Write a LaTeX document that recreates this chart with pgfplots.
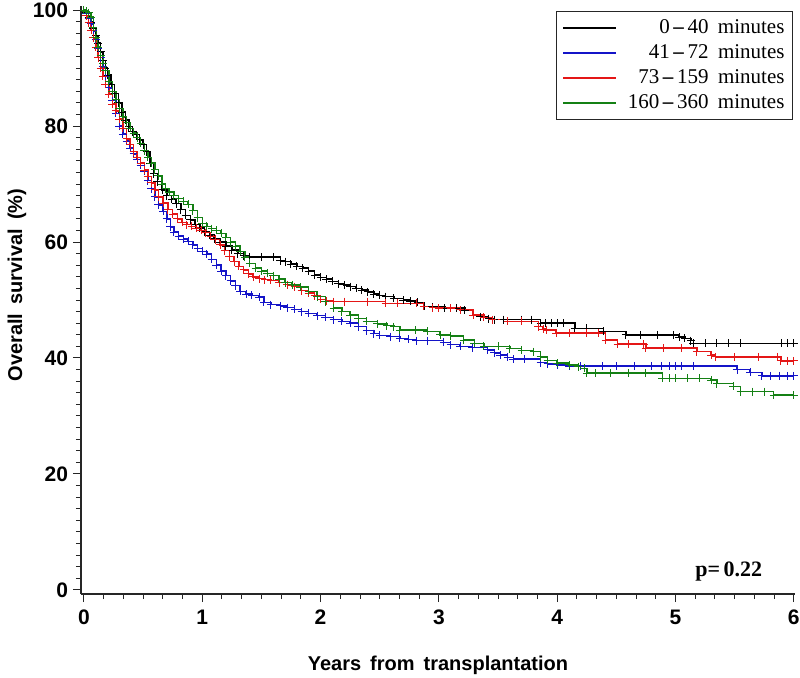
\documentclass[border=0pt]{standalone}
\usepackage{pgfplots}
\pgfplotsset{compat=1.18}
\usepackage{pgfplotstable}
\usepackage{fontspec}
\setmainfont{Liberation Sans}
\newfontfamily\legfont[Ligatures=TeX]{Liberation Serif}
\definecolor{kmblue}{RGB}{20,20,200}
\definecolor{kmred}{RGB}{228,22,22}
\definecolor{kmgreen}{RGB}{20,128,20}

\pgfplotstableread{
t S
0 100
0.02 99.6
0.04 98.8
0.06 97.9
0.08 96.9
0.10 95.6
0.12 94.3
0.14 92.8
0.16 91.3
0.18 90.0
0.20 88.8
0.23 87.2
0.26 85.6
0.29 84.0
0.32 82.4
0.35 81.0
0.38 79.9
0.41 79.0
0.44 78.5
0.47 77.6
0.50 76.8
0.53 75.6
0.56 73.6
0.59 71.8
0.62 70.4
0.66 69.0
0.70 68.0
0.74 67.4
0.78 66.6
0.82 65.6
0.86 64.6
0.90 63.8
0.94 63.0
0.98 62.4
1.02 61.8
1.06 61.2
1.10 60.6
1.15 60.0
1.20 59.3
1.25 58.6
1.30 58.0
1.35 57.6
1.40 57.4
1.50 57.4
1.60 57.4
1.66 56.8
1.70 56.6
1.75 56.2
1.80 55.8
1.85 55.5
1.90 55.0
1.95 54.3
2.00 53.9
2.05 53.6
2.10 53.2
2.15 52.8
2.20 52.6
2.25 52.3
2.30 52.0
2.35 51.7
2.40 51.4
2.45 51.0
2.50 50.8
2.55 50.6
2.62 50.3
2.70 50.0
2.76 49.8
2.82 49.6
2.88 48.9
2.95 48.8
3.05 48.6
3.15 48.6
3.22 48.2
3.29 47.4
3.35 47.1
3.42 46.8
3.47 46.6
3.55 46.6
3.70 46.6
3.78 46.6
3.86 46.0
3.90 46.0
3.95 46.0
4.00 46.0
4.05 46.0
4.15 45.1
4.25 45.1
4.39 44.6
4.58 44.0
4.70 44.0
4.85 44.0
4.98 44.0
5.03 43.6
5.08 43.4
5.13 43.0
5.15 42.5
5.25 42.5
5.35 42.5
5.45 42.5
5.55 42.5
5.90 42.5
5.95 42.5
6.00 42.5
}\grpA

\pgfplotstableread{
t S
0 100
0.02 99.4
0.04 98.6
0.06 97.6
0.08 96.4
0.10 95.0
0.12 93.4
0.14 91.8
0.16 90.2
0.18 88.6
0.21 86.6
0.24 84.4
0.27 82.2
0.30 80.0
0.33 78.6
0.36 77.4
0.39 76.2
0.42 75.2
0.45 74.2
0.48 73.2
0.51 72.2
0.54 70.6
0.57 69.2
0.60 67.8
0.63 66.4
0.67 65.3
0.70 64.0
0.73 62.6
0.76 61.7
0.80 61.0
0.84 60.5
0.88 60.1
0.92 59.5
0.96 58.9
1.00 58.4
1.04 57.9
1.08 57.0
1.12 56.0
1.16 55.0
1.20 54.2
1.24 53.3
1.28 52.5
1.32 51.5
1.37 51.0
1.42 50.8
1.48 50.5
1.52 49.6
1.58 49.2
1.66 49.0
1.72 48.7
1.78 48.4
1.84 48.0
1.90 47.7
1.97 47.3
2.04 47.0
2.11 46.6
2.18 46.3
2.25 46.0
2.32 45.4
2.39 44.7
2.45 44.2
2.50 43.9
2.59 43.7
2.67 43.4
2.74 43.2
2.81 43.0
2.90 43.0
3.04 42.7
3.10 42.3
3.18 42.0
3.28 41.8
3.41 41.4
3.47 40.9
3.52 40.5
3.58 40.1
3.63 39.8
3.72 39.8
3.86 39.2
3.92 39.0
4.00 38.8
4.10 38.6
4.20 38.6
4.38 38.6
4.50 38.6
4.65 38.6
4.80 38.6
4.88 38.6
4.95 38.6
5.00 38.6
5.05 38.6
5.15 38.6
5.52 38.0
5.63 37.5
5.73 36.9
5.80 36.9
5.88 36.9
5.95 36.9
6.00 36.9
}\grpB

\pgfplotstableread{
t S
0 100
0.02 99.0
0.04 97.8
0.06 96.5
0.08 95.2
0.10 93.6
0.12 91.8
0.14 90.0
0.16 88.6
0.18 87.2
0.21 85.5
0.24 83.8
0.27 82.6
0.30 81.2
0.33 79.6
0.36 77.8
0.39 76.8
0.42 75.6
0.45 74.6
0.48 73.6
0.51 72.4
0.54 71.3
0.57 70.2
0.60 69.0
0.63 67.8
0.67 66.7
0.71 65.6
0.75 64.8
0.79 64.0
0.83 63.4
0.87 63.0
0.91 62.7
0.95 62.4
0.99 62.0
1.03 61.6
1.07 61.0
1.11 60.4
1.15 59.5
1.19 58.5
1.23 57.5
1.27 56.6
1.31 55.8
1.35 55.2
1.39 54.5
1.43 54.0
1.48 53.7
1.53 53.5
1.58 53.4
1.65 53.0
1.72 52.6
1.78 52.3
1.84 51.6
1.90 51.2
1.95 50.7
2.00 50.1
2.05 49.8
2.11 49.7
2.20 49.7
2.40 49.7
2.55 49.4
2.65 49.4
2.81 49.4
2.87 48.9
2.95 48.7
3.00 48.6
3.10 48.6
3.18 48.3
3.29 47.4
3.38 47.0
3.45 46.6
3.58 46.3
3.70 46.3
3.84 45.4
3.88 45.0
3.91 44.8
3.99 44.3
4.10 44.3
4.25 44.3
4.35 44.3
4.41 43.1
4.51 42.4
4.60 42.4
4.73 42.4
4.75 41.7
4.90 41.7
5.05 41.7
5.18 41.1
5.30 40.5
5.34 40.2
5.50 40.2
5.70 40.2
5.86 40.2
5.89 39.5
5.95 39.5
6.00 39.5
}\grpC

\pgfplotstableread{
t S
0 100
0.02 99.8
0.04 99.5
0.06 98.8
0.08 97.0
0.10 95.2
0.12 93.6
0.14 92.2
0.16 90.8
0.18 89.6
0.21 87.6
0.24 86.0
0.27 84.6
0.30 83.0
0.33 81.6
0.36 80.6
0.39 79.6
0.42 78.8
0.45 78.0
0.48 77.0
0.51 75.7
0.54 74.6
0.57 73.6
0.60 72.5
0.63 71.4
0.66 70.0
0.69 69.2
0.72 68.6
0.76 68.0
0.80 67.5
0.84 67.0
0.88 66.5
0.92 65.4
0.96 64.2
1.00 63.2
1.04 62.7
1.08 62.3
1.12 62.0
1.16 61.5
1.20 60.8
1.24 60.0
1.28 59.3
1.32 58.4
1.36 57.4
1.40 56.3
1.45 55.5
1.50 55.0
1.55 54.6
1.60 54.2
1.65 53.6
1.70 53.0
1.76 52.6
1.83 52.2
1.90 51.5
1.97 50.6
2.04 49.7
2.11 48.6
2.18 48.0
2.25 47.4
2.32 46.8
2.39 46.3
2.48 45.9
2.56 45.6
2.62 45.4
2.67 44.8
2.80 44.8
2.90 44.6
3.01 44.0
3.10 43.8
3.21 43.1
3.30 42.5
3.38 42.0
3.50 42.0
3.60 41.6
3.70 41.3
3.80 41.1
3.86 40.2
3.92 39.6
4.00 39.1
4.10 38.8
4.18 38.5
4.23 38.2
4.25 37.4
4.32 37.4
4.45 37.4
4.60 37.4
4.75 37.4
4.89 36.5
4.95 36.5
5.00 36.5
5.10 36.5
5.20 36.5
5.30 36.2
5.35 35.6
5.49 35.1
5.55 34.2
5.65 34.2
5.75 34.2
5.83 33.6
6.00 33.6
}\grpD

\begin{document}
\begin{tikzpicture}
\useasboundingbox (-40.5pt,-41.5pt) rectangle (359.5pt,297pt);
\begin{axis}[
  scale only axis,
  width=357pt, height=294pt,
  xmin=-0.025, xmax=6.01,
  ymin=-0.7, ymax=100.7,
  axis lines*=left,
  axis line style={black!85, line width=0.6pt},
  xtick={0,1,2,3,4,5,6},
  ytick={0,20,40,60,80,100},
  minor x tick num=5,
  minor y tick num=9,
  tick align=outside,
  major tick length=4pt,
  minor tick length=2.5pt,
  tick style={black!85, line width=0.5pt},
  /pgf/number format/assume math mode=true,
  ticklabel style={font=\bfseries\fontsize{10.5}{12}\selectfont},
  xticklabel style={anchor=base, yshift=-11.25pt},
  yticklabel style={anchor=east, inner sep=0pt, xshift=-2.3pt},
  xlabel={Years\hspace{0.45em}from\hspace{0.45em}transplantation},
  ylabel={Overall\hspace{0.45em}survival\hspace{0.45em}(\%)},
  label style={font=\bfseries\fontsize{10}{12}\selectfont},
  xlabel style={at={(axis description cs:0.5,-0.1293)}, anchor=base},
  ylabel style={at={(axis description cs:-0.0826,0.5255)}, anchor=base, rotate=0},
  legend cell align=right,
  legend style={
    at={(axis description cs:1,1)}, anchor=north east,
    xshift=-1pt, yshift=-2.5pt,
    draw=black!85, line width=0.5pt,
    font=\legfont\fontsize{10.5}{12}\selectfont,
    inner xsep=3pt, inner ysep=2pt,
    row sep=0pt,
    nodes={inner sep=1pt, text height=8pt, text depth=2.5pt},
  },
  legend image code/.code={\draw[#1, line width=0.7pt] (0pt,0pt) -- (26.5pt,0pt); \path (31pt,0pt);},
  every axis plot/.append style={const plot, line width=0.75pt, mark=+, mark size=2pt, mark options={line width=0.5pt}},
]
\addplot[black] table[x=t, y=S] {\grpA};
\addlegendentry{0\,\textbf{\textendash}\,40\hspace{0.45em}minutes}
\addplot[kmblue] table[x=t, y=S] {\grpB};
\addlegendentry{41\,\textbf{\textendash}\,72\hspace{0.45em}minutes}
\addplot[kmred] table[x=t, y=S] {\grpC};
\addlegendentry{73\,\textbf{\textendash}\,159\hspace{0.45em}minutes}
\addplot[kmgreen] table[x=t, y=S] {\grpD};
\addlegendentry{160\,\textbf{\textendash}\,360\hspace{0.45em}minutes}
\node[font=\legfont\bfseries\fontsize{11}{12}\selectfont, anchor=center] at (axis cs:5.45,3.2) {p=\,0.22};
\end{axis}
\end{tikzpicture}
\end{document}
